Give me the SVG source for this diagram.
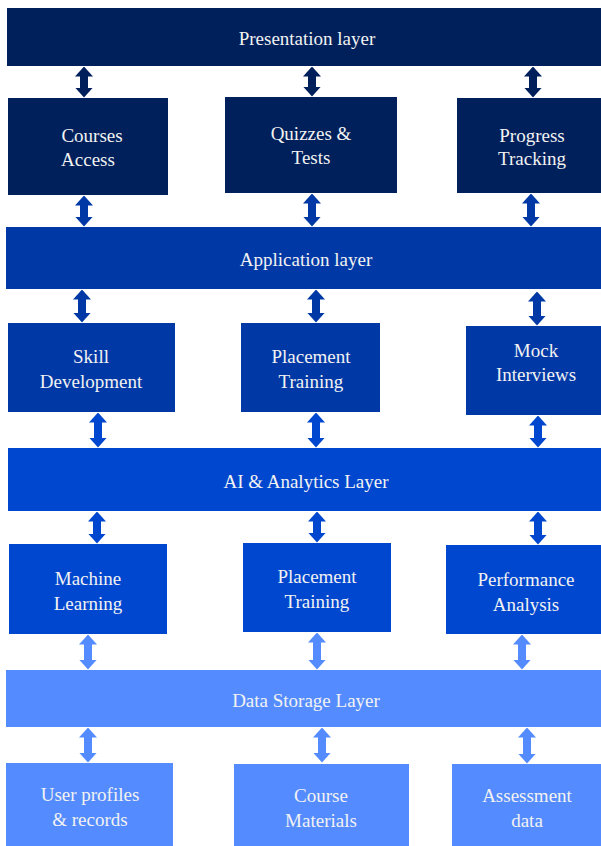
<svg xmlns="http://www.w3.org/2000/svg" width="601" height="846" viewBox="0 0 601 846">
  <style>
    text { font-family: "Liberation Serif", "Times New Roman", Times, serif; font-size: 19px; fill: #f2f2f2; text-anchor: middle; }
    .navy { fill: #00205b; }
    .blue { fill: #0039a6; }
    .bright { fill: #0047cf; }
    .light { fill: #548cff; }
    .a-navy { stroke: #00205b; stroke-width: 8; }
    .a-blue { stroke: #0039a6; stroke-width: 8; }
    .a-bright { stroke: #0047cf; stroke-width: 8; }
    .a-light { stroke: #548cff; stroke-width: 8; }
  </style>
  <defs>
    <marker id="hNavy" viewBox="0 0 10 18" markerWidth="10" markerHeight="18" markerUnits="userSpaceOnUse" refX="0.5" refY="9" orient="auto-start-reverse">
      <path d="M0,0 L10,9 L0,18 Z" fill="#00205b"/>
    </marker>
    <marker id="hBlue" viewBox="0 0 10 18" markerWidth="10" markerHeight="18" markerUnits="userSpaceOnUse" refX="0.5" refY="9" orient="auto-start-reverse">
      <path d="M0,0 L10,9 L0,18 Z" fill="#0039a6"/>
    </marker>
    <marker id="hBright" viewBox="0 0 10 18" markerWidth="10" markerHeight="18" markerUnits="userSpaceOnUse" refX="0.5" refY="9" orient="auto-start-reverse">
      <path d="M0,0 L10,9 L0,18 Z" fill="#0047cf"/>
    </marker>
    <marker id="hLight" viewBox="0 0 10 18" markerWidth="10" markerHeight="18" markerUnits="userSpaceOnUse" refX="0.5" refY="9" orient="auto-start-reverse">
      <path d="M0,0 L10,9 L0,18 Z" fill="#548cff"/>
    </marker>
  </defs>

  <!-- layer bars -->
  <g id="presentation-layer">
    <rect class="navy" x="7" y="8" width="594" height="58"/>
    <text x="307" y="45">Presentation layer</text>
  </g>
  <g id="application-layer">
    <rect class="blue" x="6" y="227" width="595" height="62"/>
    <text x="306" y="266">Application layer</text>
  </g>
  <g id="ai-analytics-layer">
    <rect class="bright" x="8" y="448" width="593" height="63"/>
    <text x="306" y="488">AI &amp; Analytics Layer</text>
  </g>
  <g id="data-storage-layer">
    <rect class="light" x="6" y="670" width="595" height="57"/>
    <text x="306" y="707">Data Storage Layer</text>
  </g>

  <!-- presentation modules -->
  <g id="courses-access">
    <rect class="navy" x="8" y="98" width="160" height="97"/>
    <text x="92" y="142">Courses</text>
    <text x="88" y="166">Access</text>
  </g>
  <g id="quizzes-tests">
    <rect class="navy" x="225" y="97" width="172" height="96"/>
    <text x="311" y="140">Quizzes &amp;</text>
    <text x="311" y="164">Tests</text>
  </g>
  <g id="progress-tracking">
    <rect class="navy" x="457" y="98" width="144" height="95"/>
    <text x="532" y="142">Progress</text>
    <text x="532" y="165">Tracking</text>
  </g>

  <!-- application modules -->
  <g id="skill-development">
    <rect class="blue" x="8" y="323" width="167" height="89"/>
    <text x="91" y="363">Skill</text>
    <text x="91" y="388">Development</text>
  </g>
  <g id="placement-training-app">
    <rect class="blue" x="241" y="323" width="139" height="89"/>
    <text x="311" y="363">Placement</text>
    <text x="311" y="388">Training</text>
  </g>
  <g id="mock-interviews">
    <rect class="blue" x="466" y="326" width="135" height="89"/>
    <text x="536" y="357">Mock</text>
    <text x="536" y="381">Interviews</text>
  </g>

  <!-- analytics modules -->
  <g id="machine-learning">
    <rect class="bright" x="9" y="544" width="158" height="90"/>
    <text x="88" y="585">Machine</text>
    <text x="88" y="610">Learning</text>
  </g>
  <g id="placement-training-ai">
    <rect class="bright" x="243" y="543" width="148" height="89"/>
    <text x="317" y="583">Placement</text>
    <text x="317" y="608">Training</text>
  </g>
  <g id="performance-analysis">
    <rect class="bright" x="446" y="545" width="155" height="89"/>
    <text x="526" y="586">Performance</text>
    <text x="526" y="611">Analysis</text>
  </g>

  <!-- storage modules -->
  <g id="user-profiles">
    <rect class="light" x="6" y="763" width="167" height="83"/>
    <text x="90" y="801">User profiles</text>
    <text x="90" y="826">&amp; records</text>
  </g>
  <g id="course-materials">
    <rect class="light" x="234" y="764" width="175" height="82"/>
    <text x="321" y="802">Course</text>
    <text x="321" y="827">Materials</text>
  </g>
  <g id="assessment-data">
    <rect class="light" x="452" y="764" width="149" height="82"/>
    <text x="527" y="802">Assessment</text>
    <text x="527" y="827">data</text>
  </g>

  <!-- two-way connectors between tiers -->
  <g id="connectors">
    <line class="a-navy" x1="84" y1="76" x2="84" y2="88" marker-start="url(#hNavy)" marker-end="url(#hNavy)"/>
    <line class="a-navy" x1="312" y1="76" x2="312" y2="87" marker-start="url(#hNavy)" marker-end="url(#hNavy)"/>
    <line class="a-navy" x1="533" y1="76" x2="533" y2="88" marker-start="url(#hNavy)" marker-end="url(#hNavy)"/>

    <line class="a-blue" x1="84" y1="205" x2="84" y2="217" marker-start="url(#hBlue)" marker-end="url(#hBlue)"/>
    <line class="a-blue" x1="312" y1="203" x2="312" y2="217" marker-start="url(#hBlue)" marker-end="url(#hBlue)"/>
    <line class="a-blue" x1="531" y1="203" x2="531" y2="217" marker-start="url(#hBlue)" marker-end="url(#hBlue)"/>

    <line class="a-blue" x1="82" y1="299" x2="82" y2="313" marker-start="url(#hBlue)" marker-end="url(#hBlue)"/>
    <line class="a-blue" x1="316" y1="299" x2="316" y2="313" marker-start="url(#hBlue)" marker-end="url(#hBlue)"/>
    <line class="a-blue" x1="537" y1="301" x2="537" y2="316" marker-start="url(#hBlue)" marker-end="url(#hBlue)"/>

    <line class="a-bright" x1="98" y1="422" x2="98" y2="438" marker-start="url(#hBright)" marker-end="url(#hBright)"/>
    <line class="a-bright" x1="316" y1="422" x2="316" y2="438" marker-start="url(#hBright)" marker-end="url(#hBright)"/>
    <line class="a-bright" x1="538" y1="425" x2="538" y2="438" marker-start="url(#hBright)" marker-end="url(#hBright)"/>

    <line class="a-bright" x1="97" y1="521" x2="97" y2="534" marker-start="url(#hBright)" marker-end="url(#hBright)"/>
    <line class="a-bright" x1="317" y1="521" x2="317" y2="533" marker-start="url(#hBright)" marker-end="url(#hBright)"/>
    <line class="a-bright" x1="538" y1="521" x2="538" y2="535" marker-start="url(#hBright)" marker-end="url(#hBright)"/>

    <line class="a-light" x1="88" y1="644" x2="88" y2="660" marker-start="url(#hLight)" marker-end="url(#hLight)"/>
    <line class="a-light" x1="317" y1="642" x2="317" y2="660" marker-start="url(#hLight)" marker-end="url(#hLight)"/>
    <line class="a-light" x1="522" y1="644" x2="522" y2="660" marker-start="url(#hLight)" marker-end="url(#hLight)"/>

    <line class="a-light" x1="88" y1="737" x2="88" y2="753" marker-start="url(#hLight)" marker-end="url(#hLight)"/>
    <line class="a-light" x1="322" y1="737" x2="322" y2="753" marker-start="url(#hLight)" marker-end="url(#hLight)"/>
    <line class="a-light" x1="527" y1="737" x2="527" y2="754" marker-start="url(#hLight)" marker-end="url(#hLight)"/>
  </g>
</svg>
